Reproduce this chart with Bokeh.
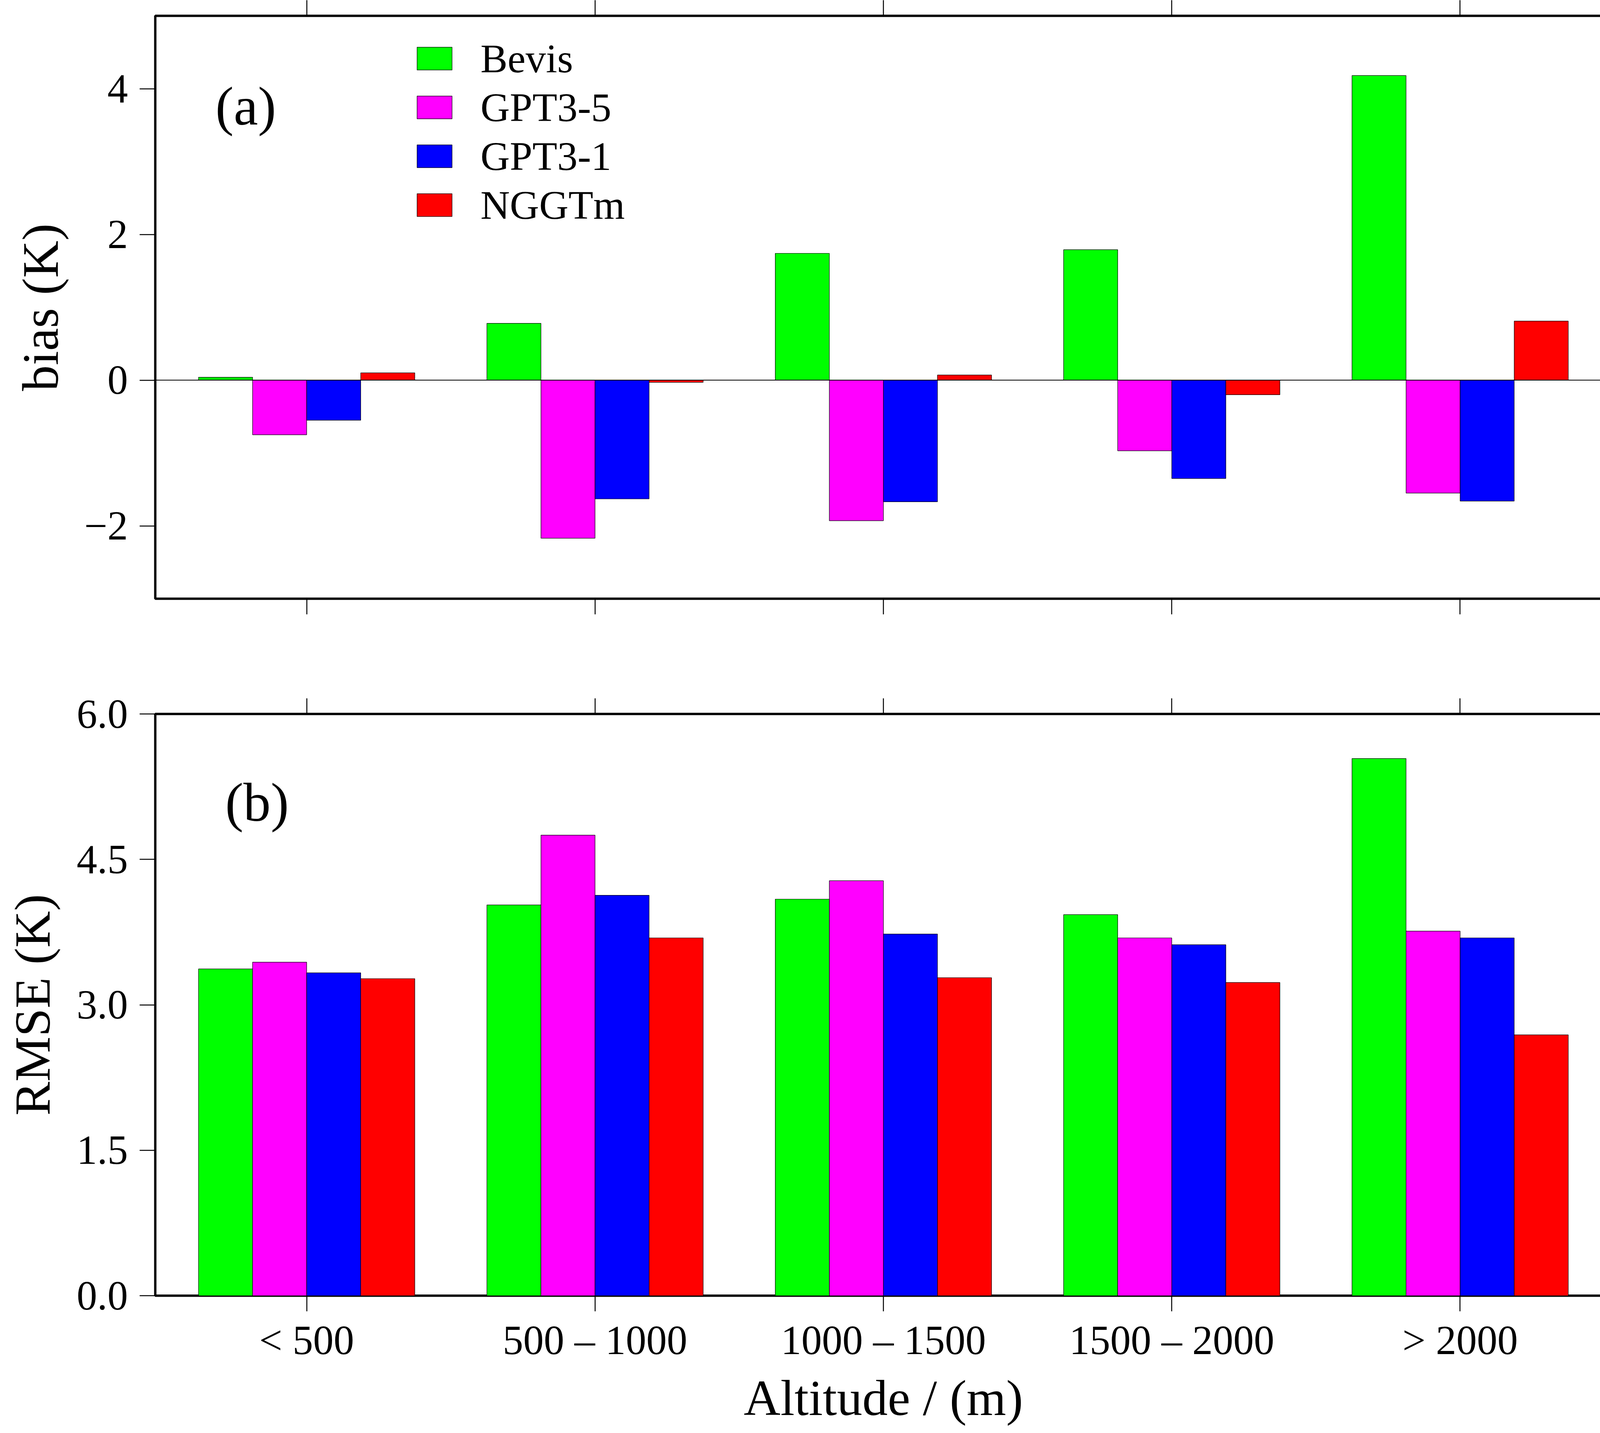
from bokeh.plotting import figure
from bokeh.models import (ColumnDataSource, FactorRange, Range1d, LinearAxis, CategoricalAxis,
                          FixedTicker, Span, Label)
from bokeh.transform import dodge
from bokeh.layouts import column
from bokeh.embed import file_html
from bokeh.resources import INLINE

# ---------------- data ----------------
categories = ["< 500", "500 \u2013 1000", "1000 \u2013 1500", "1500 \u2013 2000", "> 2000"]
models = ["Bevis", "GPT3-5", "GPT3-1", "NGGTm"]
colors = ["#00ff00", "#ff00ff", "#0000ff", "#ff0000"]

bias_bevis = [0.04, 0.78, 1.74, 1.79, 4.18]
bias_gpt35 = [-0.75, -2.17, -1.93, -0.97, -1.55]
bias_gpt31 = [-0.55, -1.63, -1.67, -1.35, -1.66]
bias_nggtm = [0.10, -0.03, 0.07, -0.20, 0.81]

rmse_bevis = [3.37, 4.03, 4.09, 3.93, 5.54]
rmse_gpt35 = [3.44, 4.75, 4.28, 3.69, 3.76]
rmse_gpt31 = [3.33, 4.13, 3.73, 3.62, 3.69]
rmse_nggtm = [3.27, 3.69, 3.28, 3.23, 2.69]

bias_ticks = [-2, 0, 2, 4]
bias_tick_labels = ["\u22122", "0", "2", "4"]
rmse_ticks = [0.0, 1.5, 3.0, 4.5, 6.0]
rmse_tick_labels = ["0.0", "1.5", "3.0", "4.5", "6.0"]

FONT = "Liberation Serif"
BAR_W = 0.1875
OFFSETS = [-1.5 * BAR_W, -0.5 * BAR_W, 0.5 * BAR_W, 1.5 * BAR_W]

W = 4180


def style_axis(ax, labels=True, size="105px"):
    ax.major_tick_in = 0
    ax.major_tick_out = 40
    ax.major_tick_line_width = 2.5
    ax.major_tick_line_color = "black"
    ax.minor_tick_line_color = None
    ax.axis_line_color = None
    ax.major_label_text_font = FONT
    if labels:
        ax.major_label_text_font_size = size
        ax.major_label_text_color = "black"
        ax.major_label_standoff = 30
    else:
        ax.major_label_text_font_size = "0px"
        ax.major_label_text_color = None
        ax.major_label_standoff = 0
    ax.axis_label_text_font = FONT
    ax.axis_label_text_font_style = "normal"
    ax.axis_label_text_color = "black"


def make_fig(height, border_top, border_bottom, y_range):
    p = figure(width=W, height=height,
               x_range=FactorRange(*categories, range_padding=0.025, range_padding_units="absolute"),
               y_range=y_range, output_backend="svg", toolbar_location=None,
               x_axis_location=None, y_axis_location=None,
               min_border_left=397, min_border_right=55,
               min_border_top=border_top, min_border_bottom=border_bottom)
    p.xgrid.visible = False
    p.ygrid.visible = False
    p.outline_line_color = "black"
    p.outline_line_width = 6
    p.background_fill_color = "white"
    p.border_fill_color = "white"
    return p


cols = ["Bevis", "GPT35", "GPT31", "NGGTm"]

# ---------------- panel (a): bias ----------------
src_a = ColumnDataSource(dict(cat=categories, Bevis=bias_bevis, GPT35=bias_gpt35,
                              GPT31=bias_gpt31, NGGTm=bias_nggtm))
p1 = make_fig(1592, 40, 60, Range1d(-3, 5))
for col, name, color, off in zip(cols, models, colors, OFFSETS):
    p1.vbar(x=dodge("cat", off, range=p1.x_range), top=col, bottom=0, width=BAR_W,
            source=src_a, fill_color=color, line_color="black", line_width=1.2,
            legend_label=name)

p1.add_layout(Span(location=0, dimension="width", line_color="black", line_width=2))

yl = LinearAxis(ticker=FixedTicker(ticks=bias_ticks),
                major_label_overrides=dict(zip(bias_ticks, bias_tick_labels)),
                axis_label="bias (K)")
style_axis(yl)
yl.axis_label_text_font_size = "132px"
yl.axis_label_standoff = 36
p1.add_layout(yl, "left")
yr = LinearAxis(ticker=FixedTicker(ticks=bias_ticks))
style_axis(yr, labels=False)
p1.add_layout(yr, "right")
xa_top = CategoricalAxis()
style_axis(xa_top, labels=False)
p1.add_layout(xa_top, "above")
xa_bot = CategoricalAxis()
style_axis(xa_bot, labels=False)
p1.add_layout(xa_bot, "below")

p1.add_layout(Label(x=0.289, y=3.76, text="(a)", text_font=FONT, text_font_size="140px",
                    text_align="center", text_baseline="middle", text_color="black"))

leg = p1.legend[0]
leg.location = (659, 948)
leg.label_text_font = FONT
leg.label_text_font_size = "104px"
leg.label_text_color = "black"
leg.glyph_width = 112
leg.glyph_height = 73
leg.label_standoff = 62
leg.spacing = 6
leg.padding = 0
leg.margin = 0
leg.border_line_color = None
leg.background_fill_alpha = 0

# ---------------- panel (b): RMSE ----------------
src_b = ColumnDataSource(dict(cat=categories, Bevis=rmse_bevis, GPT35=rmse_gpt35,
                              GPT31=rmse_gpt31, NGGTm=rmse_nggtm))
p2 = make_fig(2060, 235, 334, Range1d(0, 6))
for col, color, off in zip(cols, colors, OFFSETS):
    p2.vbar(x=dodge("cat", off, range=p2.x_range), top=col, bottom=0, width=BAR_W,
            source=src_b, fill_color=color, line_color="black", line_width=1.2)

yl2 = LinearAxis(ticker=FixedTicker(ticks=rmse_ticks),
                 major_label_overrides=dict(zip(rmse_ticks, rmse_tick_labels)),
                 axis_label="RMSE (K)")
style_axis(yl2)
yl2.axis_label_text_font_size = "130px"
yl2.axis_label_standoff = 38
p2.add_layout(yl2, "left")
yr2 = LinearAxis(ticker=FixedTicker(ticks=rmse_ticks))
style_axis(yr2, labels=False)
p2.add_layout(yr2, "right")
xa2_top = CategoricalAxis()
style_axis(xa2_top, labels=False)
p2.add_layout(xa2_top, "above")
xa2_bot = CategoricalAxis(axis_label="Altitude / (m)")
style_axis(xa2_bot)
xa2_bot.major_label_standoff = 15
xa2_bot.axis_label_text_font_size = "130px"
xa2_bot.axis_label_standoff = 14
p2.add_layout(xa2_bot, "below")

p2.add_layout(Label(x=0.328, y=5.09, text="(b)", text_font=FONT, text_font_size="140px",
                    text_align="center", text_baseline="middle", text_color="black"))

layout = column(p1, p2, spacing=0)
open("out.html", "w").write(file_html(layout, INLINE))
